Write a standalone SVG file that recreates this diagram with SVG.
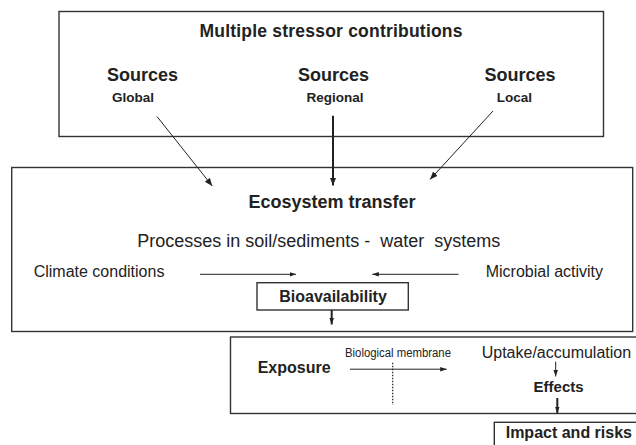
<svg xmlns="http://www.w3.org/2000/svg" width="636" height="445" viewBox="0 0 636 445">
<defs>
<style>
text{font-family:"Liberation Sans",Arial,sans-serif;fill:#222;}
.b{font-weight:bold;}
.box{fill:none;stroke:#333;stroke-width:1.4;}
.ln{stroke:#222;stroke-width:1;fill:none;}
.th{stroke:#222;stroke-width:2;fill:none;}
</style>
<marker id="ah" viewBox="0 0 10 10" refX="10" refY="5" markerWidth="8" markerHeight="8" markerUnits="userSpaceOnUse" orient="auto"><path d="M0,1 L10,5 L0,9 Z" fill="#222"/></marker>
<marker id="ahs" viewBox="0 0 10 10" refX="10" refY="5" markerWidth="6.5" markerHeight="6.5" markerUnits="userSpaceOnUse" orient="auto"><path d="M0,1.5 L10,5 L0,8.5 Z" fill="#222"/></marker>
</defs>
<rect width="636" height="445" fill="#fff"/>
<g id="stressors">
<rect class="box" x="59" y="11.5" width="544.5" height="125"/>
<text class="b" x="331" y="36.5" font-size="17.5" text-anchor="middle" textLength="263" lengthAdjust="spacing">Multiple stressor contributions</text>
<text class="b" x="142.5" y="81" font-size="18" text-anchor="middle">Sources</text>
<text class="b" x="133" y="101.5" font-size="13.5" text-anchor="middle">Global</text>
<text class="b" x="333.5" y="81" font-size="18" text-anchor="middle">Sources</text>
<text class="b" x="335" y="101.5" font-size="13.5" text-anchor="middle">Regional</text>
<text class="b" x="520" y="81" font-size="18" text-anchor="middle">Sources</text>
<text class="b" x="514.5" y="101.5" font-size="13.5" text-anchor="middle">Local</text>
</g>
<g id="ecosystem">
<rect class="box" x="11.7" y="167.5" width="621" height="164"/>
<text class="b" x="332" y="208.3" font-size="18" text-anchor="middle">Ecosystem transfer</text>
<text x="318.7" y="247.3" font-size="18" text-anchor="middle" xml:space="preserve">Processes in soil/sediments -  water  systems</text>
<text x="33.7" y="277" font-size="16">Climate conditions</text>
<text x="485.7" y="277" font-size="16">Microbial activity</text>
</g>
<g id="bioavailability">
<rect class="box" x="257" y="282.7" width="151.3" height="27.3"/>
<text class="b" x="333" y="301.7" font-size="16" text-anchor="middle">Bioavailability</text>
</g>
<g id="exposure">
<rect class="box" x="230.5" y="337" width="410" height="76.5"/>
<text class="b" x="257.7" y="373.3" font-size="16">Exposure</text>
<text x="345" y="357" font-size="12.5" textLength="106" lengthAdjust="spacingAndGlyphs">Biological membrane</text>
<text x="481.7" y="357.5" font-size="16">Uptake/accumulation</text>
<text class="b" x="558.6" y="391.7" font-size="15" text-anchor="middle">Effects</text>
<line x1="392.7" y1="362.7" x2="392.7" y2="405" stroke="#222" stroke-width="1.2" stroke-dasharray="1.5,1.5"/>
</g>
<g id="impact">
<rect class="box" x="494.3" y="422.3" width="150" height="40"/>
<text class="b" x="505.7" y="438.3" font-size="16">Impact and risks</text>
</g>
<g id="connectors">
<line class="ln" x1="157" y1="116.5" x2="212.3" y2="186" marker-end="url(#ah)"/>
<line class="th" x1="333" y1="115.7" x2="333" y2="185.5" marker-end="url(#ah)"/>
<line class="ln" x1="493" y1="111" x2="430" y2="179.5" marker-end="url(#ah)"/>
<line class="ln" x1="200" y1="274.3" x2="296" y2="274.3" marker-end="url(#ahs)"/>
<line class="ln" x1="458.5" y1="274.3" x2="372.3" y2="274.3" marker-end="url(#ahs)"/>
<line class="th" x1="331.7" y1="310" x2="331.7" y2="324.5" marker-end="url(#ahs)"/>
<line class="ln" x1="350" y1="369.2" x2="446.7" y2="369.2" marker-end="url(#ahs)"/>
<line class="ln" x1="555.7" y1="361.7" x2="555.7" y2="376.5" marker-end="url(#ahs)"/>
<line class="th" x1="557.3" y1="398" x2="557.3" y2="413.3" marker-end="url(#ahs)"/>
</g>
</svg>
